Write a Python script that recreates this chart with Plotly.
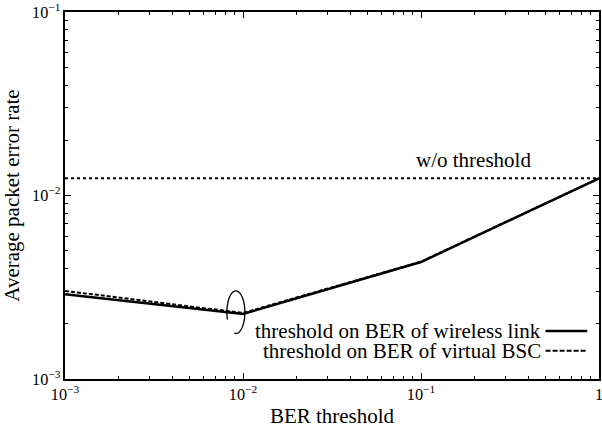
import numpy as np
import plotly.graph_objects as go

ber_threshold = [1e-3, 1e-2, 1e-1, 1.0]
per_wireless = [2.90e-3, 2.26e-3, 4.34e-3, 1.24e-2]
per_virtual_bsc = [3.02e-3, 2.29e-3, 4.36e-3, 1.24e-2]
per_no_threshold = 1.24e-2
legend_labels = ["threshold on BER of wireless link", "threshold on BER of virtual BSC"]
no_threshold_label = "w/o threshold"

FONT = "Liberation Serif"

fig = go.Figure()
fig.add_trace(go.Scatter(x=[ber_threshold[0], ber_threshold[-1]],
                         y=[per_no_threshold, per_no_threshold], mode="lines",
                         line=dict(color="black", width=2, dash="dot"), showlegend=False))
fig.add_trace(go.Scatter(x=ber_threshold, y=per_virtual_bsc, mode="lines",
                         line=dict(color="black", width=2, dash="4px,2px"), showlegend=False))
fig.add_trace(go.Scatter(x=ber_threshold, y=per_wireless, mode="lines",
                         line=dict(color="black", width=2.5), showlegend=False))

axis_common = dict(type="log", showline=True, linecolor="black", linewidth=2, mirror="allticks",
                   ticks="inside", ticklen=6, tickwidth=1, tickcolor="black", dtick=1,
                   exponentformat="power", showgrid=False, zeroline=False, automargin=False,
                   ticklabeloverflow="allow",
                   tickfont=dict(family=FONT, size=13, color="black"),
                   minor=dict(ticks="inside", ticklen=3, tickwidth=1, tickcolor="black",
                              dtick="D1", showgrid=False))

fig.update_xaxes(**axis_common, range=[-3, 0],
                 title=dict(text="BER threshold", font=dict(family=FONT, size=21, color="black"),
                            standoff=5))
fig.update_yaxes(**axis_common, range=[-3, -1],
                 title=dict(text="Average packet error rate",
                            font=dict(family=FONT, size=21, color="black"), standoff=8))

# legend drawn as text + line samples
legend_rows = [(0.131, "solid", 2.5), (0.077, "5px,2px", 2)]
for (yp, dash, w), label in zip(legend_rows, legend_labels):
    fig.add_annotation(x=0.895, y=yp, xref="paper", yref="paper", text=label, showarrow=False,
                       xanchor="right", yanchor="middle",
                       font=dict(family=FONT, size=21, color="black"))
    fig.add_shape(type="line", xref="paper", yref="paper", x0=0.9, x1=0.978, y0=yp, y1=yp,
                  line=dict(color="black", width=w, dash=dash))

fig.add_annotation(x=0.765, y=(379 - 160) / 367, xref="paper", yref="paper", text=no_threshold_label,
                   showarrow=False, xanchor="center", yanchor="middle",
                   font=dict(family=FONT, size=21, color="black"))

# open ellipse marking the two curves
cx, cy, rx, ry = 0.320, 0.182, 0.0168, 0.058
t = np.linspace(np.deg2rad(-100), np.deg2rad(200), 80)
px = cx + rx * np.cos(t)
py = cy + ry * np.sin(t)
path = "M " + " L ".join(f"{a:.4f},{b:.4f}" for a, b in zip(px, py))
fig.add_shape(type="path", xref="paper", yref="paper", path=path,
              line=dict(color="black", width=1.3))

fig.update_layout(width=602, height=432, margin=dict(l=65, r=3, t=12, b=53),
                  plot_bgcolor="white", paper_bgcolor="white",
                  font=dict(family=FONT, color="black"))

fig.write_html("out.html", config={"displayModeBar": False},
               post_script="document.body.style.margin='0';")
